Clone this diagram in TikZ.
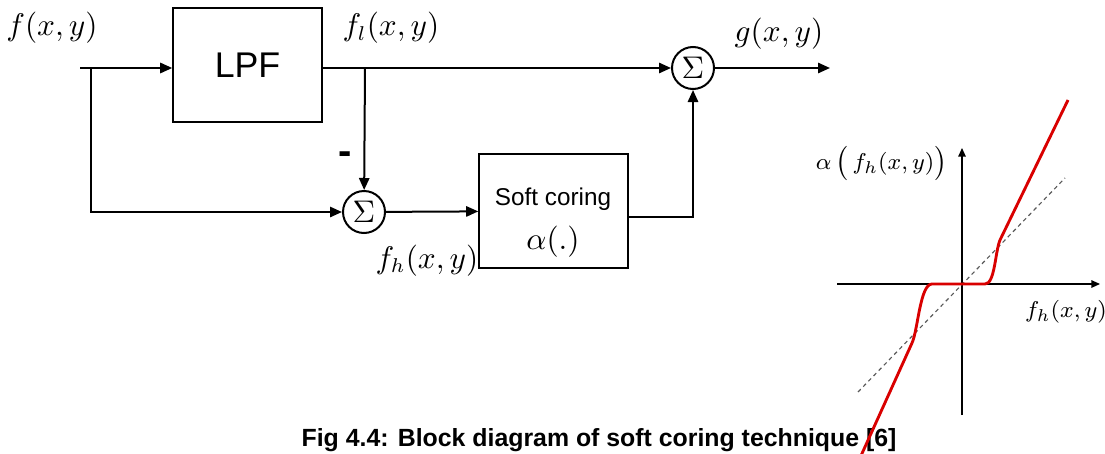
\documentclass[tikz,border=0pt]{standalone}
\usepackage{fontspec}
\setsansfont{Liberation Sans}
\usetikzlibrary{arrows.meta}

\begin{document}
\begin{tikzpicture}[x=0.35pt, y=-0.35pt, >={Triangle[length=4.2pt,width=3.6pt]}, line width=0.7pt,
  block/.style={draw, minimum width=52pt, minimum height=40pt, inner sep=0pt},
  adder/.style={draw, circle, minimum size=14.7pt, inner sep=0pt, font=\fontsize{11}{13}\selectfont},
  sig/.style={font=\fontsize{10.5}{12}\selectfont, anchor=base},
  ax/.style={line width=0.45pt, -{Triangle[length=3pt,width=2.6pt]}}]
  \useasboundingbox (0,0) rectangle (1105,453);
  \clip (0,0) rectangle (1105,453);
  % blocks
  \node[block, font=\sffamily\fontsize{12.5}{14}\selectfont] (lpf) at (247.5,65) {LPF};
  \node[block] (soft) at (553.5,211) {};
  \node[anchor=base, font=\sffamily\fontsize{8.5}{10}\selectfont] (softtxt) at (553,205) {Soft coring};
  \node[anchor=base, font=\fontsize{11}{13}\selectfont] (alphatxt) at (553,249) {$\alpha(.)$};
  \node[adder] (sumh) at (364,212) {$\Sigma$};
  \node[adder] (sumg) at (693,68) {$\Sigma$};
  \coordinate (in) at (80,68);
  \coordinate (split) at (91,68);
  \coordinate (tap) at (365,68);
  \coordinate (out) at (830,68);
  % connections
  \draw[->] (in) -- (split -| lpf.west);
  \draw[->] (split) |- (sumh);
  \draw[->] (lpf.east |- tap) -- (sumg);
  \draw[->] (tap) -- (sumh);
  \draw[->] (sumh) -- (soft);
  \draw[->] ([yshift=-2pt]soft.east) -| (sumg);
  \draw[->] (sumg) -- (out);
  % signal names
  \node[sig] (fin) at (52,36) {$f(x,y)$};
  \node[sig] (flow) at (391,36) {$f_l(x,y)$};
  \node[sig] (gout) at (779,41) {$g(x,y)$};
  \node[sig] (fhigh) at (427,268) {$f_h(x,y)$};
  \node[font=\sffamily\bfseries\fontsize{14}{16}\selectfont] (minus) at (345,158) {-};
  \node[anchor=base, font=\sffamily\bfseries\fontsize{8.7}{10}\selectfont] (caption) at (599,446) {Fig 4.4: Block diagram of soft coring technique [6]};
  % coring curve
  \draw[ax] (837,284) -- (1100,284);
  \draw[ax] (962,415) -- (962,148);
  \draw[dash pattern=on 1.4pt off 1.2pt, line width=0.4pt, gray!70!black] (858,392) -- (1065,178);
  \draw[red!85!black, line width=1pt] (850,480) -- (912,343) .. controls (918,330) and (920,284) .. (932,284)
    -- (985,284) .. controls (995,284) and (995,252) .. (1000,240) -- (1068,100);
  \node[anchor=east, font=\fontsize{8.5}{10}\selectfont] (ylab) at (958,163) {$\alpha\,\big(\,f_h(x,y)\big)$};
  \node[font=\fontsize{8.5}{10}\selectfont] (xlab) at (1066,312) {$f_h(x,y)$};
\end{tikzpicture}
\end{document}
